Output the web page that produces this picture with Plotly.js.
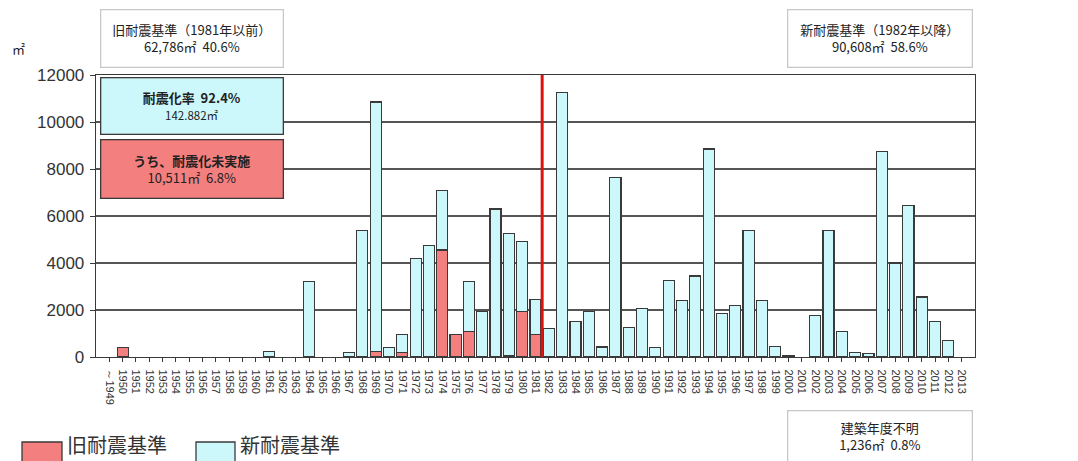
<!DOCTYPE html>
<html>
<head>
<meta charset="utf-8">
<script src="https://cdn.plot.ly/plotly-3.0.1.min.js"></script>
<style>html,body{margin:0;padding:0;background:#fff;}#chart{width:1078px;height:461px;}</style>
</head>
<body>
<div id="chart"></div>
<script>
// Category labels (construction year)
const years = ["～1949","1950","1951","1952","1953","1954","1955","1956","1957","1958","1959","1960",
  "1961","1962","1963","1964","1965","1966","1967","1968","1969","1970","1971","1972","1973","1974",
  "1975","1976","1977","1978","1979","1980","1981","1982","1983","1984","1985","1986","1987","1988",
  "1989","1990","1991","1992","1993","1994","1995","1996","1997","1998","1999","2000","2001","2002",
  "2003","2004","2005","2006","2007","2008","2009","2010","2011","2012","2013"];

// Red segment (旧耐震基準, bottom of stack), ㎡  (null = no bar)
const oldStd = [null,400,null,null,null,null,null,null,null,null,null,null,
  null,null,null,null,null,null,null,null,250,null,180,null,null,4550,
  950,1100,null,null,50,1950,950,null,null,null,null,null,null,null,
  null,null,null,null,null,null,null,null,null,null,null,null,null,null,
  null,null,null,null,null,null,null,null,null,null,null];

// Light-blue segment (新耐震基準, stacked on top), ㎡  (null = no bar)
const newStd = [null,null,null,null,null,null,null,null,null,null,null,null,
  230,null,null,3200,null,null,180,5400,10600,400,770,4200,4750,2550,
  null,2100,1950,6300,5200,2950,1500,1200,11250,1500,1950,430,7650,1250,
  2050,400,3250,2400,3450,8850,1850,2200,5400,2400,450,60,null,1750,
  5400,1100,200,150,8750,4000,6450,2550,1500,700,null];

const yTicks = [0,2000,4000,6000,8000,10000,12000];
const dividerAfter = "1981";

const L = 96, R = 975, T = 75, B = 357;
const px = x => (x - L) / (R - L);
const py = y => (B - y) / (B - T);

const cjk = "Noto Sans CJK JP, sans-serif";
const lineCol = "#3a3a3a";

const traces = [
  {type:"bar", name:"旧耐震基準", x:years, y:oldStd,
   marker:{color:"#f47f7f", line:{color:lineCol, width:1.2}}, hoverinfo:"skip"},
  {type:"bar", name:"新耐震基準", x:years, y:newStd,
   marker:{color:"#cdf8fb", line:{color:lineCol, width:1.2}}, hoverinfo:"skip"}
];

function box(x0, y0, w, h, text, bg, border, size) {
  return {xref:"paper", yref:"paper", x:px(x0), y:py(y0), xanchor:"left", yanchor:"top",
    width:w, height:h, showarrow:false, align:"center", valign:"middle",
    bgcolor:bg, bordercolor:border, borderwidth:1.3, borderpad:0,
    text:text, font:{family:cjk, size:size, color:"#222"}};
}

const divIdx = years.indexOf(dividerAfter) + 0.5;

const layout = {
  width:1078, height:461,
  margin:{l:L, r:1078-R, t:T, b:461-B},
  paper_bgcolor:"#fff", plot_bgcolor:"#fff",
  barmode:"stack", bargap:0.17, showlegend:false,
  font:{family:"Liberation Sans, Arial, sans-serif", color:"#333"},
  xaxis:{type:"category", range:[-1, years.length], tickangle:90,
    ticks:"outside", ticklen:4, tickcolor:lineCol, ticklabelstandoff:5,
    tickfont:{size:11, color:"#333"},
    showline:true, linecolor:lineCol, linewidth:1.3, mirror:true, showgrid:false, fixedrange:true},
  yaxis:{range:[0,12000], tickvals:yTicks, ticktext:yTicks.map(String),
    ticks:"outside", ticklen:5, tickcolor:lineCol, ticklabelstandoff:2,
    tickfont:{size:17, color:"#333"},
    showline:true, linecolor:lineCol, linewidth:1.3, mirror:true,
    showgrid:true, gridcolor:"#555", gridwidth:1.3, zeroline:false, fixedrange:true},
  shapes:[
    {type:"line", xref:"x", yref:"y", x0:divIdx, x1:divIdx, y0:0, y1:12000,
     line:{color:"#d11", width:3}},
    {type:"rect", xref:"paper", yref:"paper", x0:px(22), x1:px(62), y0:py(442), y1:py(462),
     fillcolor:"#f47f7f", line:{color:lineCol, width:1.3}},
    {type:"rect", xref:"paper", yref:"paper", x0:px(196), x1:px(235), y0:py(442), y1:py(462),
     fillcolor:"#cdf8fb", line:{color:lineCol, width:1.3}}
  ],
  annotations:[
    {xref:"paper", yref:"paper", x:px(10), y:py(48), xanchor:"left", yanchor:"middle",
     showarrow:false, text:"㎡", font:{family:cjk, size:13, color:"#222"}},
    box(100, 9, 181, 56, "旧耐震基準（1981年以前）<br>62,786㎡  40.6%", "#fff", "#c8c8c8", 13),
    box(787, 9, 183, 56, "新耐震基準（1982年以降）<br>90,608㎡  58.6%", "#fff", "#c8c8c8", 13),
    box(100, 77, 181, 55, "<b>耐震化率  92.4%</b><br><span style='font-size:11.5px'>142.882㎡</span>", "#cdf8fb", lineCol, 13),
    box(100, 139, 181, 57, "<b>うち、耐震化未実施</b><br>10,511㎡  6.8%", "#f47f7f", lineCol, 13),
    box(787, 410, 183, 50, "建築年度不明<br>1,236㎡  0.8%", "#fff", "#c8c8c8", 13),
    {xref:"paper", yref:"paper", x:px(65), y:py(461), xanchor:"left", yanchor:"bottom",
     showarrow:false, text:"旧耐震基準", font:{family:cjk, size:20, color:"#333"}},
    {xref:"paper", yref:"paper", x:px(238), y:py(461), xanchor:"left", yanchor:"bottom",
     showarrow:false, text:"新耐震基準", font:{family:cjk, size:20, color:"#333"}}
  ]
};

Plotly.newPlot("chart", traces, layout, {staticPlot:true, displayModeBar:false});
</script>
</body>
</html>
